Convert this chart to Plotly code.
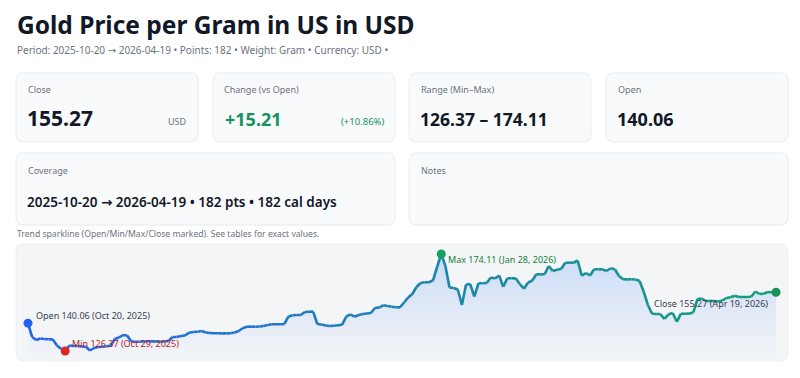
import plotly.graph_objects as go
import pandas as pd

# ---------------- data ----------------
start_date = "2025-10-20"
n_points = 182
prices = [
    140.06, 133.26, 131.78, 132.52, 132.28, 132.13, 132.10, 129.08, 127.45, 126.37,
    129.08, 128.83, 128.85, 128.58, 128.49, 126.62, 127.85, 128.34, 128.49, 128.68,
    128.98, 132.28, 133.01, 134.25, 134.00, 131.05, 130.95, 130.93, 131.05, 131.14,
    131.12, 131.05, 130.95, 131.03, 131.29, 133.26, 133.24, 133.75, 134.00, 135.38,
    135.72, 135.87, 136.21, 135.48, 135.23, 135.13, 135.08, 135.06, 135.04, 135.08,
    135.48, 136.21, 137.69, 138.33, 138.35, 138.31, 138.43, 138.68, 139.17, 139.51,
    139.53, 139.50, 139.55, 143.25, 143.99, 144.09, 144.10, 145.57, 145.71, 145.73,
    139.66, 139.41, 138.92, 138.68, 138.82, 139.02, 139.27, 143.25, 144.43, 143.26,
    144.09, 144.58, 144.83, 145.07, 147.68, 147.70, 148.91, 148.52, 148.13, 147.88,
    147.86, 150.24, 152.70, 154.43, 157.87, 159.84, 160.18, 160.20, 161.07, 167.71,
    174.11, 168.21, 157.62, 157.38, 156.64, 149.01, 159.10, 159.35, 153.19, 159.69,
    159.71, 159.84, 162.55, 162.05, 163.53, 158.02, 162.15, 162.17, 162.13, 159.35,
    157.03, 160.09, 160.97, 164.12, 164.10, 164.14, 168.21, 165.75, 166.39, 166.73,
    169.83, 169.85, 169.81, 170.91, 163.43, 164.76, 163.53, 166.58, 166.60, 166.56,
    165.75, 167.08, 166.58, 163.29, 161.66, 161.64, 161.68, 161.56, 160.82, 155.41,
    149.01, 144.68, 144.58, 144.56, 142.22, 144.43, 145.07, 140.74, 144.73, 144.71,
    144.75, 145.42, 151.96, 152.21, 150.98, 150.96, 151.00, 150.73, 151.23, 152.46,
    152.80, 153.54, 152.95, 152.93, 152.97, 153.05, 155.66, 154.43, 154.57, 155.41,
    155.26, 155.27,
]
currency = "USD"
weight = "Gram"
notes_text = ""

dates = pd.date_range(start_date, periods=n_points, freq="D")

open_v = prices[0]
close_v = prices[-1]
min_v = min(prices)
max_v = max(prices)
i_min = prices.index(min_v)
i_max = prices.index(max_v)
change = close_v - open_v
pct = change / open_v * 100
cal_days = (dates[-1] - dates[0]).days + 1

W, H = 800, 378


def X(px):
    return px / W


def Y(py):
    return 1 - py / H


def rrect(x0, y0, x1, y1, r=8):
    def p(x, y):
        return f"{X(x):.5f},{Y(y):.5f}"
    d = (f"M {p(x0 + r, y0)} L {p(x1 - r, y0)} Q {p(x1, y0)} {p(x1, y0 + r)} "
         f"L {p(x1, y1 - r)} Q {p(x1, y1)} {p(x1 - r, y1)} "
         f"L {p(x0 + r, y1)} Q {p(x0, y1)} {p(x0, y1 - r)} "
         f"L {p(x0, y0 + r)} Q {p(x0, y0)} {p(x0 + r, y0)} Z")
    return d


FONT = "Noto Sans, Open Sans, DejaVu Sans, sans-serif"
DARK = "#111827"
GRAY = "#6b7280"
GREEN = "#15935a"

# axes: map values linearly into the sparkline card
px_per_unit = (351 - 254) / (max_v - min_v)
y_lo = min_v - (361 - 351) / px_per_unit
y_hi = max_v + (254 - 245) / px_per_unit

fig = go.Figure()

# area fill
fig.add_trace(go.Scatter(
    x=dates, y=prices, mode="lines", line=dict(width=0, color="rgba(0,0,0,0)"),
    fill="tozeroy",
    fillgradient=dict(type="vertical", start=y_lo, stop=max_v,
                      colorscale=[[0, "rgba(59,130,246,0.0)"], [1, "rgba(59,130,246,0.22)"]]),
    hoverinfo="skip", showlegend=False,
))

# gradient line via segments
c0 = (37, 99, 235)
c1 = (20, 160, 122)
nseg = len(prices) - 1
for i in range(nseg):
    t = i / (nseg - 1)
    col = tuple(round(c0[k] + (c1[k] - c0[k]) * t) for k in range(3))
    fig.add_trace(go.Scatter(
        x=dates[i:i + 2], y=prices[i:i + 2], mode="lines",
        line=dict(color=f"rgb{col}", width=2.6),
        hoverinfo="skip", showlegend=False,
    ))

# markers
marks = [
    (0, "#2563eb"),
    (i_min, "#dc2626"),
    (i_max, "#16a05a"),
    (len(prices) - 1, "#15935a"),
]
for idx, col in marks:
    fig.add_trace(go.Scatter(
        x=[dates[idx]], y=[prices[idx]], mode="markers",
        marker=dict(size=9, color=col), cliponaxis=False,
        hoverinfo="skip", showlegend=False,
    ))


def dstr(d):
    return f"{d:%b} {d.day}, {d:%Y}"


ann = []
lab_font = dict(family=FONT, size=9)
ann.append(dict(x=dates[0], y=open_v, xref="x", yref="y",
                text=f"Open {open_v:.2f} ({dstr(dates[0])})", showarrow=False,
                xanchor="left", yanchor="middle", xshift=6, yshift=8,
                font=dict(lab_font, color="#374151")))
ann.append(dict(x=dates[i_min], y=min_v, xref="x", yref="y",
                text=f"Min {min_v:.2f} ({dstr(dates[i_min])})", showarrow=False,
                xanchor="left", yanchor="middle", xshift=5, yshift=8,
                font=dict(lab_font, color="#b91c1c")))
ann.append(dict(x=dates[i_max], y=max_v, xref="x", yref="y",
                text=f"Max {max_v:.2f} ({dstr(dates[i_max])})", showarrow=False,
                xanchor="left", yanchor="middle", xshift=5, yshift=-5,
                font=dict(lab_font, color="#15803d")))
ann.append(dict(x=dates[-1], y=close_v, xref="x", yref="y",
                text=f"Close {close_v:.2f} ({dstr(dates[-1])})", showarrow=False,
                xanchor="right", yanchor="middle", xshift=-6, yshift=-11,
                font=dict(lab_font, color="#374151")))


def txt(px, py, text, size, color, bold=False, anchor="left", weight=None):
    f = dict(family=FONT, size=size, color=color)
    if bold:
        f["weight"] = 700
    if weight:
        f["weight"] = weight
    ann.append(dict(x=X(px), y=Y(py), xref="paper", yref="paper", text=text,
                    showarrow=False, xanchor=anchor, yanchor="middle", font=f))


# header
txt(15, 24, "Gold Price per Gram in US in USD", 24.5, DARK, bold=True)
txt(15, 50, f"Period: {dates[0]:%Y-%m-%d} → {dates[-1]:%Y-%m-%d} • Points: {len(prices)} • "
    f"Weight: {weight} • Currency: {currency} •", 10, GRAY)

shapes = []
cards = [(16, 73, 198, 142), (213, 73, 395, 142), (409, 73, 591, 142), (606, 73, 788, 142),
         (16, 153, 395, 225), (409, 153, 788, 225)]
for c in cards:
    shapes.append(dict(type="path", path=rrect(*c), xref="paper", yref="paper",
                       fillcolor="#f9fafb", line=dict(color="#e8eaee", width=1), layer="below"))
# sparkline card
shapes.append(dict(type="path", path=rrect(16, 244, 788, 361), xref="paper", yref="paper",
                   fillcolor="#f4f5f7", line=dict(color="#eceef1", width=1), layer="below"))

# card 1
txt(26, 89, "Close", 9, GRAY)
txt(25, 118, f"{close_v:.2f}", 21, DARK, bold=True)
txt(189, 121, currency, 9, GRAY, anchor="right")
# card 2
txt(222, 89, "Change (vs Open)", 9, GRAY)
txt(223, 119, f"{change:+.2f}", 18, GREEN, bold=True)
txt(386, 121, f"({pct:+.2f}%)", 9.5, GREEN, anchor="right")
# card 3
txt(419, 89, "Range (Min–Max)", 9, GRAY)
txt(418, 119, f"{min_v:.2f} – {max_v:.2f}", 17.5, DARK, bold=True)
# card 4
txt(616, 89, "Open", 9, GRAY)
txt(615, 119, f"{open_v:.2f}", 18, DARK, bold=True)
# card 5
txt(26, 171, "Coverage", 9, GRAY)
txt(25, 202, f"{dates[0]:%Y-%m-%d} → {dates[-1]:%Y-%m-%d} • {len(prices)} pts • {cal_days} cal days",
    13.5, DARK, weight=600)
# card 6
txt(419, 171, "Notes", 9, GRAY)
if notes_text:
    txt(419, 200, notes_text, 10, DARK)

txt(15, 234, "Trend sparkline (Open/Min/Max/Close marked). See tables for exact values.", 8.6, GRAY)

fig.update_layout(
    width=W, height=H, margin=dict(l=0, r=0, t=0, b=0),
    paper_bgcolor="white", plot_bgcolor="rgba(0,0,0,0)",
    xaxis=dict(domain=[X(28), X(776)], range=[dates[0], dates[-1]], visible=False,
               fixedrange=True),
    yaxis=dict(domain=[Y(361), Y(245)], range=[y_lo, y_hi], visible=False, fixedrange=True),
    shapes=shapes, annotations=ann, showlegend=False,
    font=dict(family=FONT),
)

fig.write_html("out.html", config={"displayModeBar": False},
               post_script="document.body.style.margin='0';"
                           "document.body.style.overflow='hidden';")
